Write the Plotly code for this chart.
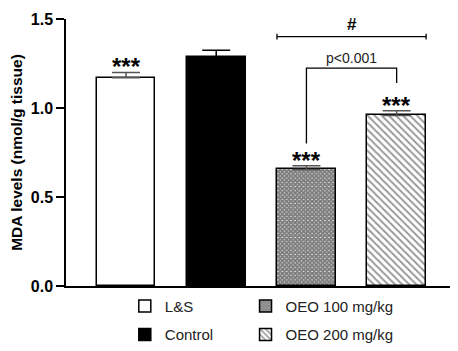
import plotly.graph_objects as go

groups = ["L&S", "Control", "OEO 100 mg/kg", "OEO 200 mg/kg"]
means = [1.17, 1.285, 0.655, 0.958]
errs = [0.03, 0.04, 0.02, 0.027]
stars = ["***", "", "***", "***"]
bracket_p = "p<0.001"
bracket_hash = "#"
y_ticks = [0.0, 0.5, 1.0, 1.5]
y_tick_labels = ["0.0", "0.5", "1.0", "1.5"]

FONT = "Liberation Sans, Arial, sans-serif"
fills = ["white", "black", "white", "white"]
patterns = [None, None, dict(shape="x", size=3, solidity=0.9, fgcolor="black", bgcolor="white"),
            dict(shape="\\", size=5, solidity=0.4, fgcolor="#333", bgcolor="white")]
legend_ids = ["legend", "legend", "legend2", "legend2"]
err_colors = ["#555", "black", "#555", "#555"]

BW = 0.653
fig = go.Figure()
for i, g in enumerate(groups):
    marker = dict(color=fills[i], line=dict(color="black", width=1.5))
    if patterns[i]:
        marker["pattern"] = patterns[i]
    fig.add_trace(go.Bar(
        x=[i], y=[means[i]], name=g, width=BW, marker=marker,
        error_y=dict(type="data", array=[errs[i]], arrayminus=[0], symmetric=False,
                     visible=True, width=14, thickness=1.5, color=err_colors[i]),
        legend=legend_ids[i], legendgroup=g, showlegend=True,
    ))
    if stars[i]:
        fig.add_annotation(x=i, y=means[i] + errs[i], text=stars[i], showarrow=False,
                           yanchor="bottom", yshift=-10,
                           font=dict(family=FONT, size=24, color="black", weight="bold"))

# p<0.001 bracket
fig.add_shape(type="path", xref="x", yref="y",
              path="M 2 0.80 L 2 1.224 L 3 1.224 L 3 1.141",
              line=dict(color="black", width=1.3))
fig.add_annotation(x=2.5, y=1.224, text=bracket_p, showarrow=False, yanchor="bottom", yshift=0,
                   font=dict(family=FONT, size=14, color="#222"))
# # line
x0, x1 = 2 - BW / 2, 3 + BW / 2
fig.add_shape(type="line", xref="x", yref="y", x0=x0, x1=x1, y0=1.401, y1=1.401,
              line=dict(color="black", width=1.3))
for xx in (x0, x1):
    fig.add_shape(type="line", xref="x", yref="y", x0=xx, x1=xx, y0=1.385, y1=1.417,
                  line=dict(color="black", width=1.3))
fig.add_annotation(x=2.5, y=1.401, text=bracket_hash, showarrow=False, yanchor="bottom", yshift=1,
                   font=dict(family=FONT, size=17, color="black", weight="bold"))

# page body has an 8px margin, so the figure is drawn 8px in from the window edge
fig.update_layout(
    width=450, height=343,
    margin=dict(l=58, r=0, t=11, b=65, autoexpand=False),
    plot_bgcolor="white", paper_bgcolor="white",
    font=dict(family=FONT, color="black"),
    bargap=0,
    xaxis=dict(range=[-0.665, 3.68], showticklabels=False, ticks="", showgrid=False,
               zeroline=False, showline=True, linecolor="black", linewidth=1.5),
    yaxis=dict(range=[0, 1.5], tickvals=y_ticks, ticktext=y_tick_labels, ticks="outside",
               ticklen=8, tickwidth=1.5, tickcolor="black", showgrid=False, zeroline=False,
               showline=True, linecolor="black", linewidth=1.5, automargin=False,
               tickfont=dict(size=16, family=FONT, color="black", weight="bold"),
               title=dict(text="MDA levels (nmol/g tissue)", standoff=10,
                          font=dict(size=15.5, family=FONT, color="black", weight="bold"))),
    legend=dict(x=0.15, y=-0.014, xanchor="left", yanchor="top", orientation="v",
                font=dict(size=15, color="#222"), tracegroupgap=6, itemwidth=30,
                bgcolor="rgba(0,0,0,0)"),
    legend2=dict(x=0.458, y=-0.014, xanchor="left", yanchor="top", orientation="v",
                 font=dict(size=15, color="#222"), tracegroupgap=6, itemwidth=30,
                 bgcolor="rgba(0,0,0,0)"),
)
fig.write_html("out.html")
